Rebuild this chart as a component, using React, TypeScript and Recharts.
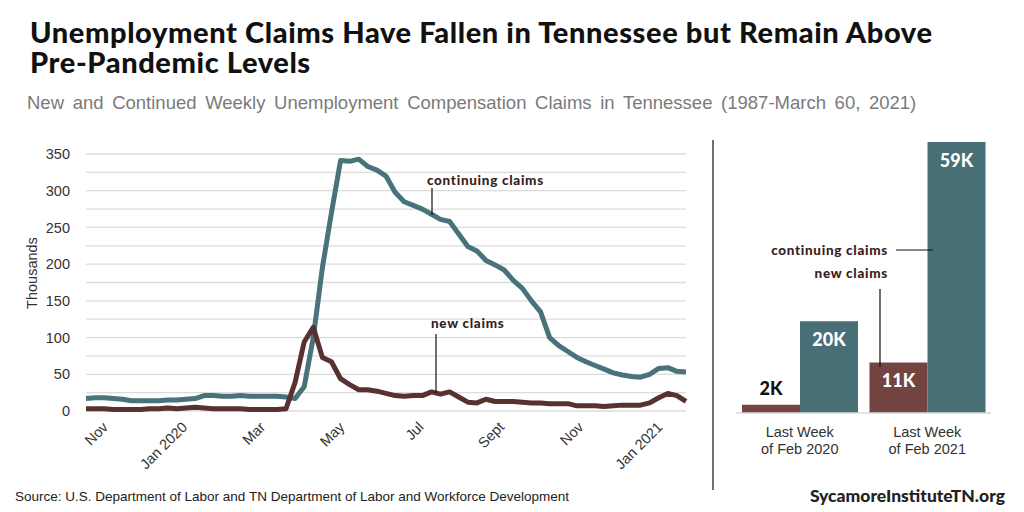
import { LineChart, Line, XAxis, YAxis, CartesianGrid, BarChart, Bar, LabelList } from 'recharts';

// weekly data, week ending dates
const weeks = [
  '2019-10-12', '2019-10-19', '2019-10-26', '2019-11-02', '2019-11-09', '2019-11-16', '2019-11-23', '2019-11-30',
  '2019-12-07', '2019-12-14', '2019-12-21', '2019-12-28', '2020-01-04', '2020-01-11', '2020-01-18', '2020-01-25',
  '2020-02-01', '2020-02-08', '2020-02-15', '2020-02-22', '2020-02-29', '2020-03-07', '2020-03-14', '2020-03-21',
  '2020-03-28', '2020-04-04', '2020-04-11', '2020-04-18', '2020-04-25', '2020-05-02', '2020-05-09', '2020-05-16',
  '2020-05-23', '2020-05-30', '2020-06-06', '2020-06-13', '2020-06-20', '2020-06-27', '2020-07-04', '2020-07-11',
  '2020-07-18', '2020-07-25', '2020-08-01', '2020-08-08', '2020-08-15', '2020-08-22', '2020-08-29', '2020-09-05',
  '2020-09-12', '2020-09-19', '2020-09-26', '2020-10-03', '2020-10-10', '2020-10-17', '2020-10-24', '2020-10-31',
  '2020-11-07', '2020-11-14', '2020-11-21', '2020-11-28', '2020-12-05', '2020-12-12', '2020-12-19', '2020-12-26',
  '2021-01-02', '2021-01-09', '2021-01-16',
];

// thousands
const continuingClaims = [
  17, 18, 18, 17, 16, 14, 14, 14, 14, 15, 15, 16, 17, 21, 21, 20,
  20, 21, 20, 20, 20, 20, 19, 17, 33, 100, 195, 270, 341, 340, 343, 333,
  328, 320, 298, 285, 280, 275, 268, 261, 258, 241, 224, 218, 205, 199, 192, 178,
  167, 150, 135, 100, 89, 81, 73, 67, 62, 57, 52, 49, 47, 46, 50, 58,
  59, 54, 53,
];

const newClaims = [
  3, 3, 3, 2, 2, 2, 2, 3, 3, 4, 3, 4, 5, 4, 3, 3,
  3, 3, 2, 2, 2, 2, 3, 39, 94, 114, 73, 67, 44, 36, 29, 29,
  27, 24, 21, 20, 21, 21, 26, 23, 26, 19, 12, 11, 16, 13, 13, 13,
  12, 11, 11, 10, 10, 10, 7, 7, 7, 6, 7, 8, 8, 8, 11, 18,
  24, 21, 13,
];

const monthTicks = ['2019-11-01', '2020-01-01', '2020-03-01', '2020-05-01', '2020-07-01', '2020-09-01', '2020-11-01', '2021-01-01'];
const monthLabels = ['Nov', 'Jan 2020', 'Mar', 'May', 'Jul', 'Sept', 'Nov', 'Jan 2021'];
const yTicks = [0, 25, 50, 75, 100, 125, 150, 175, 200, 225, 250, 275, 300, 325, 350];

// comparison bars
const barCategories = ['Last Week|of Feb 2020', 'Last Week|of Feb 2021'];
const barNew = [1.8, 11];
const barContinuing = [20, 59];

const TEAL = '#49737a';
const BROWN = '#58322f';
const BAR_BROWN = '#734441';
const BAR_TEAL = '#476f75';
const NOTE = '#3a1e1e';

const lineData = weeks.map((w, i) => ({ t: Date.parse(w), cont: continuingClaims[i], nw: newClaims[i] }));
const tickValues = monthTicks.map((m) => Date.parse(m));
const barData = barCategories.map((c, i) => ({ cat: c, nw: barNew[i], cont: barContinuing[i] }));

const sans = 'Arial, "Liberation Sans", sans-serif';
const heavy = 'Lato, "Open Sans", sans-serif';

const MonthTick = (props: any) => {
  const { x, payload } = props;
  const label = monthLabels[tickValues.indexOf(payload.value)];
  const x0 = x - 3;
  const y0 = 298;
  return (
    <text x={x0} y={y0} transform={`rotate(-45 ${x0} ${y0})`} textAnchor="end" fontFamily={sans} fontSize={14.5} fill="#333">
      {label}
    </text>
  );
};

const BarTick = (props: any) => {
  const { x, y, payload } = props;
  const [a, b] = String(payload.value).split('|');
  return (
    <text x={x} y={y} textAnchor="middle" fontFamily={sans} fontSize={14.5} fill="#333">
      <tspan x={x} dy={16}>{a}</tspan>
      <tspan x={x} dy={17}>{b}</tspan>
    </text>
  );
};

const NewLabel = (props: any) => {
  const { x, y, width, value } = props;
  const txt = Math.round(value) + 'K';
  const small = value < 5;
  return (
    <text x={x + width / 2} y={small ? y - 10 : y + 25} textAnchor="middle" fontFamily={heavy} fontWeight={900}
      fontSize={18} fill={small ? '#111' : '#fff'}>{txt}</text>
  );
};

const ContLabel = (props: any) => {
  const { x, y, width, value } = props;
  return (
    <text x={x + width / 2} y={y + 25} textAnchor="middle" fontFamily={heavy} fontWeight={900}
      fontSize={18} fill="#fff">{Math.round(value) + 'K'}</text>
  );
};

export default function App() {
  const titleStyle = { position: 'absolute' as const, left: 30, fontFamily: heavy, fontWeight: 900, fontSize: 29, lineHeight: '30px', color: '#111', letterSpacing: 0.6, whiteSpace: 'nowrap' as const };
  return (
    <div style={{ position: 'absolute', left: 0, top: 0, width: 1024, height: 512, background: '#fff', overflow: 'hidden' }}>
      <div style={{ ...titleStyle, top: 17 }}>Unemployment Claims Have Fallen in Tennessee but Remain Above</div>
      <div style={{ ...titleStyle, top: 47 }}>Pre-Pandemic Levels</div>
      <div style={{ position: 'absolute', left: 27, top: 92, fontFamily: sans, fontSize: 18.5, lineHeight: '22px', color: '#7a7a7a', whiteSpace: 'nowrap', wordSpacing: 3.5 }}>
        New and Continued Weekly Unemployment Compensation Claims in Tennessee (1987-March 60, 2021)
      </div>

      <div style={{ position: 'absolute', left: 0, top: 130 }}>
        <LineChart width={700} height={360} data={lineData} margin={{ top: 24, right: 14, bottom: 20, left: 36 }}>
          <CartesianGrid vertical={false} stroke="#dcdcdc" strokeWidth={1.3} />
          <XAxis dataKey="t" type="number" domain={['dataMin', 'dataMax']} ticks={tickValues}
            height={59} tickLine={false} axisLine={false} tick={<MonthTick />} interval={0} />
          <YAxis domain={[0, 350]} ticks={yTicks} width={50} tickLine={false} axisLine={false}
            tickFormatter={(v: number) => (v % 50 === 0 ? String(v) : '')}
            tick={{ fontFamily: sans, fontSize: 14.5, fill: '#333' }} tickMargin={10} interval={0} />
          <Line type="linear" dataKey="cont" stroke={TEAL} strokeWidth={5} dot={false} isAnimationActive={false} strokeLinejoin="round" />
          <Line type="linear" dataKey="nw" stroke={BROWN} strokeWidth={5} dot={false} isAnimationActive={false} strokeLinejoin="round" />
        </LineChart>
      </div>

      <div style={{ position: 'absolute', left: 716, top: 130 }}>
        <BarChart width={290} height={340} data={barData} margin={{ top: 12, right: 15, bottom: 0, left: 20 }} barGap={0} barSize={58}>
          <XAxis dataKey="cat" height={57} tickLine={false} axisLine={{ stroke: '#d9d9d9', strokeWidth: 1.5 }} tick={<BarTick />} interval={0} />
          <YAxis hide domain={[0, 59]} />
          <Bar dataKey="nw" fill={BAR_BROWN} isAnimationActive={false}>
            <LabelList dataKey="nw" content={<NewLabel />} />
          </Bar>
          <Bar dataKey="cont" fill={BAR_TEAL} isAnimationActive={false}>
            <LabelList dataKey="cont" content={<ContLabel />} />
          </Bar>
        </BarChart>
      </div>

      <svg width={1024} height={512} style={{ position: 'absolute', left: 0, top: 0, pointerEvents: 'none' }}>
        <text x={32} y={273} transform="rotate(-90 32 273)" textAnchor="middle" dominantBaseline="central" fontFamily={sans} fontSize={14.5} fill="#333">Thousands</text>
        <g fontFamily={heavy} fontWeight={900} fontSize={13.5} fill={NOTE} letterSpacing={0.7}>
          <text x={427} y={185}>continuing claims</text>
          <text x={431} y={328}>new claims</text>
          <text x={888} y={255} textAnchor="end">continuing claims</text>
          <text x={888} y={278} textAnchor="end">new claims</text>
        </g>
        <g stroke="#111" strokeWidth={1.2}>
          <line x1={432} y1={188} x2={432} y2={215} />
          <line x1={436} y1={334} x2={436} y2={393} />
          <line x1={896} y1={250} x2={933} y2={250} />
          <line x1={880} y1={289} x2={880} y2={367} />
          <line x1={713} y1={140} x2={713} y2={490} />
        </g>
        <text x={15} y={501} fontFamily={sans} fontSize={13.5} fill="#222">Source: U.S. Department of Labor and TN Department of Labor and Workforce Development</text>
        <text x={1005} y={502} textAnchor="end" fontFamily={heavy} fontWeight={900} fontSize={17.5} fill="#222">SycamoreInstituteTN.org</text>
      </svg>
    </div>
  );
}
